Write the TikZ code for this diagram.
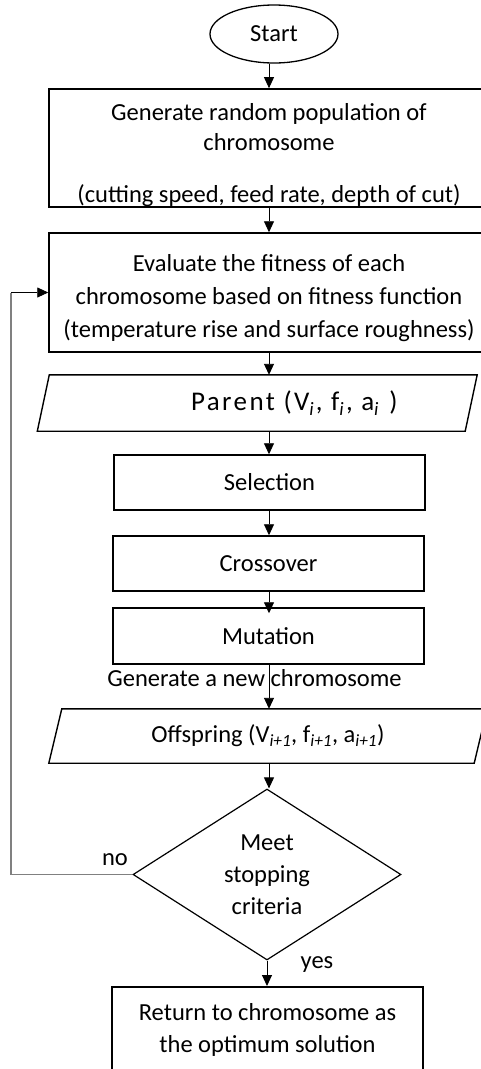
\documentclass[tikz,border=0pt]{standalone}
\usepackage{fontspec}
\setmainfont{Carlito}
\usetikzlibrary{shapes.geometric,arrows.meta}
\begin{document}
\begin{tikzpicture}[x=1pt,y=-1pt,
  every node/.style={font=\fontsize{24.5}{32}\selectfont, text=black},
  box/.style={draw, line width=1.5pt, rectangle, align=center, inner sep=0pt},
  parabox/.style={rectangle, inner sep=0pt},
  paraline/.style={line width=1.4pt, line join=miter},
  arr/.style={-{Triangle[length=11pt,width=10pt]}, line width=0.9pt},
  fbline/.style={draw=black!50, line width=1.1pt},
]
\useasboundingbox (0,0) rectangle (481,1069);
\clip (0,0) rectangle (481,1069);

\node[draw, ellipse, line width=1.3pt, minimum width=128, minimum height=58, inner sep=0pt] (start) at (274,34) {Start};

\node[box, minimum width=440, minimum height=118, font=\fontsize{24.5}{30}\selectfont] (gen) at (269,148)
  {\rule{0pt}{32pt}Generate random population of\\chromosome\\[22pt](cutting speed, feed rate, depth of cut)};

\node[box, minimum width=440, minimum height=119, font=\fontsize{24.5}{33}\selectfont] (eval) at (269,292.5)
  {\rule{0pt}{28pt}Evaluate the fitness of each\\chromosome based on fitness function\\(temperature rise and surface roughness)};

\node[parabox, minimum width=427.5, minimum height=56, font=\fontsize{27}{32}\selectfont\addfontfeature{LetterSpace=9}] (par) at (257.25,403)
  {\hspace*{74pt}Parent (V\textsubscript{\textit{i}}, f\textsubscript{\textit{i}}, a\textsubscript{\textit{i}} )};
\draw[paraline] ([xshift=6pt]par.north west) -- ([xshift=6pt]par.north east)
  -- ([xshift=-6pt]par.south east) -- ([xshift=-6pt]par.south west) -- cycle;

\node[box, minimum width=311, minimum height=55] (sel) at (269.5,482.5) {Selection};
\node[box, minimum width=311, minimum height=55] (cross) at (268.5,563.5) {Crossover};
\node[box, minimum width=311, minimum height=56] (mut) at (268.5,636) {Mutation};

\node[inner sep=0pt] (gentxt) at (254.5,678) {Generate a new chromosome};

\node[parabox, minimum width=425, minimum height=54] (off) at (268,736)
  {Offspring (V\textsubscript{\textit{i+1}}, f\textsubscript{\textit{i+1}}, a\textsubscript{\textit{i+1}})};
\draw[paraline] ([xshift=6.5pt]off.north west) -- ([xshift=6.5pt]off.north east)
  -- ([xshift=-6.5pt]off.south east) -- ([xshift=-6.5pt]off.south west) -- cycle;

\node[draw, diamond, aspect=1.57, line width=1.2pt, minimum width=268, minimum height=171, inner sep=0pt, align=center] (dec) at (267,874.5)
  {Meet\\stopping\\criteria};

\node (no) at (115,860) {no};
\node (yes) at (317,965) {yes};

\node[box, minimum width=311, minimum height=86, anchor=north] (ret) at (267.5,986)
  {Return to chromosome as\\the optimum solution};

% connectors
\coordinate (mutin) at ([yshift=-6pt]mut.north);
\coordinate (fb1) at (11,875);
\coordinate (fb2) at (11,292.5);

\draw[arr] (gen.north |- start.south) -- (gen.north);
\draw[arr] (gen.south) -- (eval.north);
\draw[arr] (eval.south) -- (eval.south |- par.north);
\draw[arr] (eval.south |- par.south) -- (eval.south |- sel.north);
\draw[arr] (eval.south |- sel.south) -- (eval.south |- cross.north);
\draw[arr] (eval.south |- cross.south) -- (eval.south |- mutin);
\draw[arr] (eval.south |- mut.south) -- (eval.south |- off.north);
\draw[arr] (eval.south |- off.south) -- (eval.south |- dec.north);
\draw[arr] (dec.south) -- (dec.south |- ret.north);

\draw[fbline] (dec.west) -- (dec.west -| fb1) -- (fb2);
\draw[arr] (fb2) -- (eval.west);
\end{tikzpicture}
\end{document}
